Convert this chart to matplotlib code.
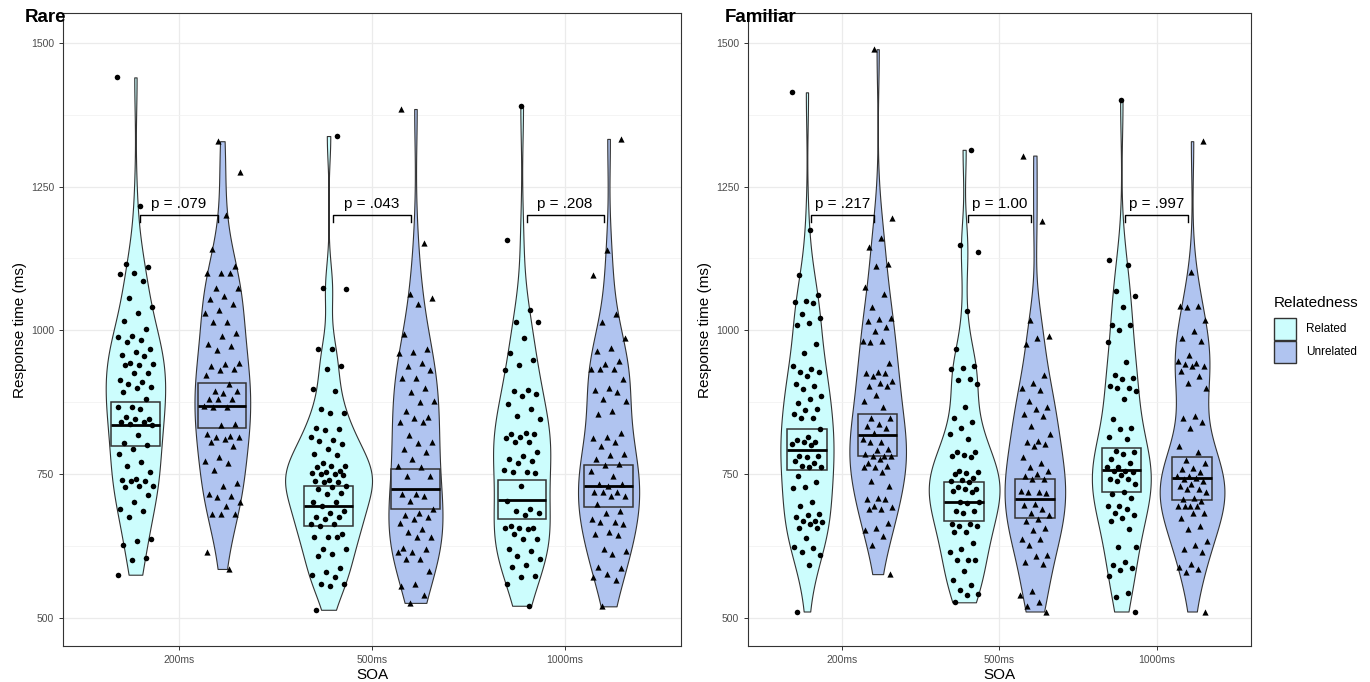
import numpy as np
import matplotlib.pyplot as plt
from matplotlib.patches import Rectangle

plt.rcParams['font.family'] = ['Liberation Sans', 'DejaVu Sans']

soa_labels = ["200ms", "500ms", "1000ms"]
groups = ["Related", "Unrelated"]
p_rare = ["p = .079", "p = .043", "p = .208"]
p_familiar = ["p = .217", "p = 1.00", "p = .997"]

# response times (ms)
rare_200_rel = [1440, 1217, 1115, 1110, 1100, 1098, 1085, 1056, 1041, 1031, 1017, 1002, 990, 988, 983,
                980, 967, 962, 957, 955, 944, 941, 939, 939, 926, 925, 914, 910, 906, 902, 900, 893,
                880, 867, 867, 863, 850, 845, 845, 841, 840, 837, 835, 818, 804, 800, 793, 785, 771,
                764, 753, 741, 740, 738, 738, 730, 729, 727, 713, 701, 689, 686, 676, 637, 634, 627,
                604, 601, 575]
rare_200_unrel = [1329, 1275, 1200, 1141, 1112, 1100, 1100, 1099, 1074, 1074, 1060, 1054, 1046, 1036,
                  1030, 1014, 1014, 996, 990, 976, 973, 966, 944, 941, 938, 932, 931, 922, 906, 895,
                  895, 891, 880, 880, 880, 869, 866, 866, 837, 835, 819, 817, 814, 814, 811, 805, 798,
                  779, 773, 770, 757, 735, 730, 715, 712, 711, 701, 695, 681, 681, 681, 614, 585]
rare_500_rel = [1338, 1074, 1072, 967, 967, 938, 932, 898, 895, 864, 857, 856, 831, 829, 827, 814, 810,
                808, 802, 793, 785, 783, 770, 764, 764, 762, 756, 753, 752, 750, 750, 748, 740, 738,
                736, 736, 730, 727, 724, 717, 715, 702, 701, 695, 686, 683, 675, 675, 672, 663, 663,
                660, 646, 640, 640, 640, 620, 620, 611, 608, 586, 580, 575, 571, 559, 559, 556, 514]
rare_500_unrel = [1385, 1152, 1064, 1056, 1046, 993, 968, 962, 961, 944, 938, 931, 918, 918, 900, 893,
                  877, 876, 859, 850, 847, 841, 841, 818, 805, 804, 793, 789, 776, 764, 762, 747, 746,
                  715, 715, 712, 704, 689, 683, 678, 675, 672, 665, 654, 649, 640, 640, 621, 620, 615,
                  614, 602, 602, 582, 559, 556, 540, 526]
rare_1000_rel = [1391, 1158, 1036, 1014, 1014, 987, 960, 949, 939, 931, 896, 895, 889, 885, 872, 863,
                 851, 845, 822, 819, 819, 814, 812, 806, 805, 789, 782, 776, 773, 770, 757, 753, 753,
                 752, 730, 704, 690, 686, 683, 678, 660, 657, 657, 656, 654, 646, 637, 637, 620, 617,
                 607, 602, 592, 588, 573, 571, 559, 521]
rare_1000_unrel = [1333, 1140, 1096, 1029, 1015, 987, 970, 964, 947, 941, 932, 932, 932, 915, 900, 896,
                   893, 881, 877, 860, 854, 822, 814, 812, 806, 798, 785, 783, 776, 767, 765, 756, 747,
                   733, 733, 730, 719, 719, 718, 712, 712, 698, 686, 683, 672, 666, 666, 663, 649, 646,
                   644, 620, 617, 611, 588, 586, 576, 571, 565, 520]

fam_200_rel = [1414, 1174, 1096, 1061, 1051, 1049, 1048, 1028, 1022, 1012, 1010, 977, 961, 938, 933,
               928, 927, 921, 906, 903, 898, 886, 880, 873, 863, 862, 854, 848, 847, 829, 814, 810,
               806, 806, 802, 800, 782, 781, 779, 773, 770, 764, 762, 762, 747, 736, 727, 725, 701,
               695, 681, 678, 675, 669, 669, 666, 663, 657, 656, 638, 623, 621, 615, 609, 592, 511]
fam_200_unrel = [1489, 1196, 1161, 1145, 1115, 1112, 1076, 1063, 1040, 1022, 1019, 1016, 1005, 999, 982,
                 982, 979, 944, 927, 925, 925, 921, 912, 909, 903, 903, 887, 877, 867, 848, 848, 837,
                 834, 831, 822, 811, 805, 805, 793, 792, 785, 782, 782, 782, 777, 770, 764, 763, 762,
                 753, 738, 730, 708, 707, 707, 694, 692, 690, 689, 665, 657, 652, 643, 626, 576]
fam_500_rel = [1314, 1148, 1137, 1034, 968, 938, 935, 933, 915, 914, 906, 866, 848, 840, 831, 819, 811,
               789, 788, 783, 781, 779, 756, 753, 752, 750, 744, 740, 738, 736, 727, 724, 724, 721,
               718, 702, 702, 700, 686, 686, 683, 663, 663, 660, 660, 649, 649, 631, 619, 614, 600,
               600, 600, 582, 565, 557, 549, 542, 539, 527]
fam_500_unrel = [1304, 1190, 1018, 990, 987, 976, 922, 909, 900, 897, 877, 867, 864, 854, 851, 833, 819,
                 808, 805, 802, 799, 779, 770, 762, 756, 750, 747, 741, 741, 721, 718, 718, 717, 698,
                 696, 690, 683, 679, 672, 669, 657, 653, 637, 637, 626, 609, 607, 597, 594, 547, 539,
                 527, 521, 511]
fam_1000_rel = [1400, 1122, 1113, 1068, 1060, 1041, 1010, 1010, 1000, 979, 945, 923, 918, 915, 903, 900,
                900, 895, 880, 845, 831, 828, 814, 811, 791, 788, 785, 776, 770, 763, 762, 756, 756,
                753, 748, 741, 741, 738, 733, 719, 715, 709, 695, 694, 689, 683, 679, 673, 669, 654,
                623, 623, 597, 592, 586, 584, 572, 543, 536, 511]
fam_1000_unrel = [1329, 1101, 1042, 1042, 1041, 1018, 999, 987, 982, 957, 947, 944, 941, 938, 938, 929,
                  921, 909, 900, 851, 848, 840, 831, 799, 788, 775, 770, 760, 759, 753, 747, 747, 744,
                  741, 738, 733, 730, 724, 724, 718, 708, 707, 704, 695, 695, 695, 695, 683, 683, 674,
                  660, 654, 634, 626, 620, 614, 594, 588, 585, 579, 511]

# box statistics; order 200 rel, 200 unrel, 500 rel, 500 unrel, 1000 rel, 1000 unrel
rare_q1 = [799, 831, 660, 689, 672, 693]
rare_med = [836, 869, 695, 724, 705, 729]
rare_q3 = [876, 909, 730, 759, 740, 765]
fam_q1 = [757, 782, 668, 673, 719, 705]
fam_med = [792, 818, 701, 707, 757, 743]
fam_q3 = [829, 854, 737, 741, 796, 779]

fills = ["#ccfdfd", "#b0c4f0"]
markers = ["o", "^"]
msize = [16, 20]
edge = "#333333"


def violin_shape(vals, n=512):
    v = np.asarray(vals, float)
    iqr = np.subtract(*np.percentile(v, [75, 25]))
    bw = 0.9 * min(v.std(ddof=1), iqr / 1.34) * len(v) ** -0.2
    y = np.linspace(v.min(), v.max(), n)
    dens = np.exp(-0.5 * ((y[:, None] - v[None, :]) / bw) ** 2).sum(1) / (len(v) * bw * np.sqrt(2 * np.pi))
    return y, dens


def draw_panel(ax, data, q1, med, q3, pvals):
    shapes = [violin_shape(d) for d in data]
    dmax = max(s[1].max() for s in shapes)
    for k, (vals, (y, dens)) in enumerate(zip(data, shapes)):
        cat, grp = divmod(k, 2)
        xc = cat + (-0.225 if grp == 0 else 0.225)
        half = 0.225 * dens / dmax
        ax.fill_betweenx(y, xc - half, xc + half, facecolor=fills[grp],
                         edgecolor=edge, lw=0.8, zorder=2)
        stats = [dict(q1=q1[k], med=med[k], q3=q3[k], whislo=q1[k], whishi=q3[k], fliers=[])]
        ax.bxp(stats, positions=[xc], widths=0.25, showfliers=False, showcaps=False,
               patch_artist=True, manage_ticks=False,
               boxprops=dict(facecolor=fills[grp], edgecolor=edge, lw=1.1),
               medianprops=dict(color="black", lw=2),
               whiskerprops=dict(lw=0), zorder=3)
        n = len(vals)
        jit = ((np.arange(n) * 0.618034 + 0.37 * k) % 1 - 0.5) * 0.19
        ax.scatter(xc + jit, vals, marker=markers[grp], s=msize[grp], c="black",
                   linewidths=0, zorder=4)
    for cat, txt in enumerate(pvals):
        ax.plot([cat - 0.2, cat - 0.2, cat + 0.2, cat + 0.2], [1188, 1201, 1201, 1188],
                color="black", lw=1, zorder=5)
        ax.text(cat, 1207, txt, ha="center", va="bottom", fontsize=11, zorder=5)

    ax.set_xlim(-0.6, 2.6)
    ax.set_ylim(451, 1552)
    ax.set_xticks(range(3))
    ax.set_xticklabels(soa_labels)
    ax.set_yticks([500, 750, 1000, 1250, 1500])
    ax.set_yticks([625, 875, 1125, 1375], minor=True)
    ax.grid(True, which="major", color="#ebebeb", lw=0.9, zorder=0)
    ax.grid(True, which="minor", axis="y", color="#f2f2f2", lw=0.6, zorder=0)
    ax.set_axisbelow(True)
    ax.tick_params(axis="both", which="major", labelsize=7.5, labelcolor="#4d4d4d",
                   color=edge, length=3, width=0.7)
    ax.tick_params(axis="y", which="minor", length=0)
    for sp in ax.spines.values():
        sp.set_color(edge)
        sp.set_linewidth(0.8)
    ax.set_xlabel("SOA", fontsize=11, labelpad=2)
    ax.set_ylabel("Response time (ms)", fontsize=11, labelpad=3)


fig = plt.figure(figsize=(13.7, 6.82), dpi=100)
ax1 = fig.add_axes([63 / 1370, 36 / 682, 618 / 1370, 633 / 682])
ax2 = fig.add_axes([748 / 1370, 36 / 682, 503 / 1370, 633 / 682])

draw_panel(ax1, [rare_200_rel, rare_200_unrel, rare_500_rel, rare_500_unrel, rare_1000_rel, rare_1000_unrel],
           rare_q1, rare_med, rare_q3, p_rare)
draw_panel(ax2, [fam_200_rel, fam_200_unrel, fam_500_rel, fam_500_unrel, fam_1000_rel, fam_1000_unrel],
           fam_q1, fam_med, fam_q3, p_familiar)

fig.text(25 / 1370, 1 - 18 / 682, "Rare", fontsize=13.5, fontweight="bold", va="center")
fig.text(725 / 1370, 1 - 18 / 682, "Familiar", fontsize=13.5, fontweight="bold", va="center")

# legend
fig.text(1274 / 1370, 1 - 303 / 682, "Relatedness", fontsize=11, va="center")
for i, g in enumerate(groups):
    top = 318 + 23 * i
    fig.add_artist(Rectangle((1274 / 1370, 1 - (top + 22) / 682), 22 / 1370, 22 / 682,
                             transform=fig.transFigure, facecolor=fills[i], edgecolor=edge, lw=1))
    fig.text(1306 / 1370, 1 - (top + 11) / 682, g, fontsize=8.5, va="center")

fig.savefig("out.png", dpi=100)
